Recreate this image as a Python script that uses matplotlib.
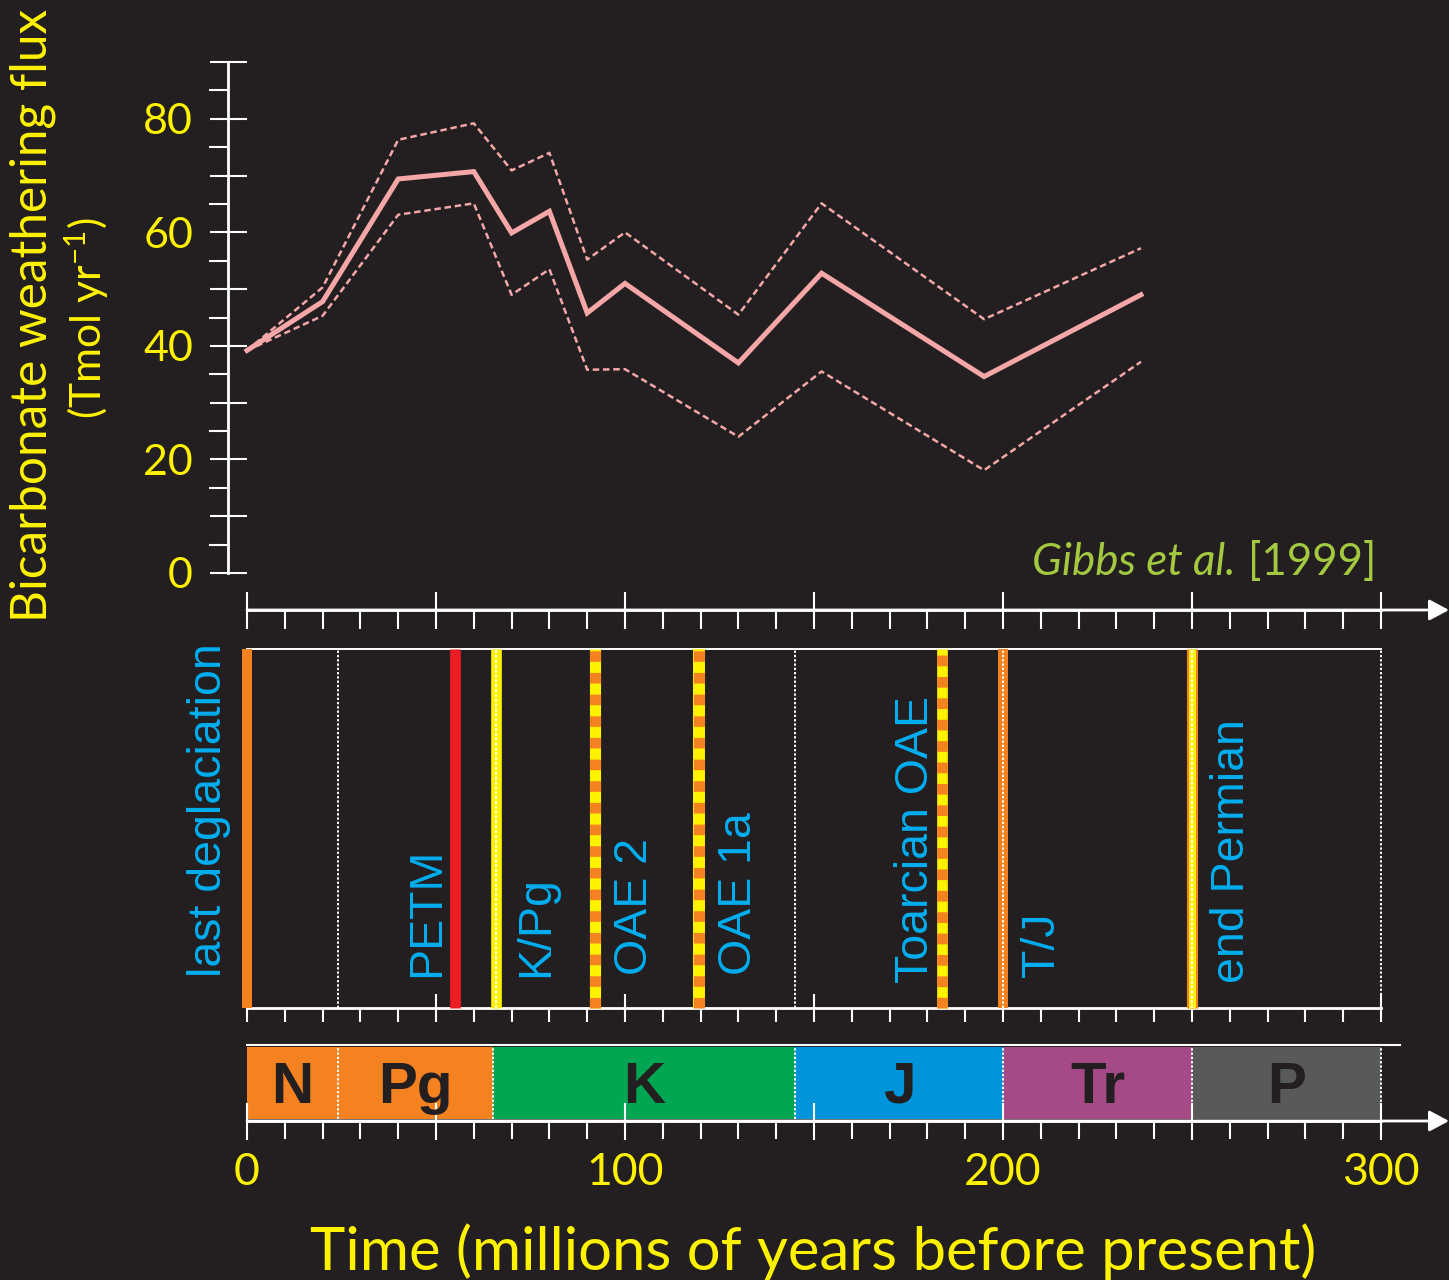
import matplotlib
matplotlib.use("Agg")
import matplotlib.pyplot as plt
from matplotlib.ticker import FixedLocator, FuncFormatter

# ---------------- data ----------------
time_ma = [0, 20, 40, 60, 70, 80, 90, 100, 130, 152, 195, 236.5]
flux_mid = [39.2, 47.8, 69.4, 70.7, 59.9, 63.7, 45.8, 51.0, 37.0, 52.8, 34.6, 49.0]
flux_upper = [39.2, 50.3, 76.3, 79.2, 70.9, 74.0, 55.2, 60.0, 45.5, 65.1, 44.7, 57.2]
flux_lower = [39.2, 45.3, 63.1, 65.1, 49.0, 53.5, 35.8, 35.9, 24.0, 35.5, 18.1, 37.2]

event_names = ["last deglaciation", "PETM", "K/Pg", "OAE 2", "OAE 1a",
               "Toarcian OAE", "T/J", "end Permian"]
event_ages = [0, 55, 66, 92, 119.5, 183.8, 200, 250]

period_names = ["N", "Pg", "K", "J", "Tr", "P"]
period_bounds = [0, 24, 65, 145, 200, 250, 300]

y_tick_labels = [0, 20, 40, 60, 80]
x_tick_labels = [0, 100, 200, 300]

# ---------------- styles ----------------
BG = "#231f20"
YELLOW = "#fff200"
CYAN = "#00aeef"
PINK = "#f5a7a7"
ORANGE = "#f58220"
RED = "#ed1c24"
GREEN_TXT = "#a3c940"
period_colors = {"N": ORANGE, "Pg": ORANGE, "K": "#00a651", "J": "#0095da",
                 "Tr": "#a54a87", "P": "#58595b"}

plt.rcParams["mathtext.fontset"] = "custom"
plt.rcParams["mathtext.rm"] = "Lato"
plt.rcParams["mathtext.it"] = "Lato:italic"
plt.rcParams["mathtext.default"] = "regular"

GEO = ["Lato", "DejaVu Sans"]
ARIAL = ["Liberation Sans", "DejaVu Sans"]

W, H = 1449, 1280
PX = 0.72  # points per pixel at dpi 100

fig = plt.figure(figsize=(W / 100, H / 100), dpi=100, facecolor=BG)


def rect(x0, y0, x1, y1):
    return [x0 / W, 1 - y1 / H, (x1 - x0) / W, (y1 - y0) / H]


X0PX, PPM = 247.0, 3.78
XMIN = (228 - X0PX) / PPM
XMAX = (1449 - X0PX) / PPM

Y0PX, PPU = 573.0, 511.0 / 90.0

X_MAJOR = list(range(0, 301, 50))
X_MINOR = list(range(0, 301, 10))
Y_MAJOR = list(range(0, 91, 10))
Y_MINOR = list(range(5, 90, 10))


def style_axis_ticks(ax, major_len_px, minor_len_px):
    ax.xaxis.set_major_locator(FixedLocator(X_MAJOR))
    ax.xaxis.set_minor_locator(FixedLocator(X_MINOR))
    ax.tick_params(axis="x", which="major", direction="inout",
                   length=major_len_px * PX, width=1.5, color="white")
    ax.tick_params(axis="x", which="minor", direction="out",
                   length=minor_len_px * PX, width=1.5, color="white")


def arrow(ax, y):
    ax.annotate("", xy=(XMAX, y), xytext=(0, y), xycoords="data",
                arrowprops=dict(arrowstyle="-|>,head_length=0.6,head_width=0.32",
                                color="white", lw=2.0, mutation_scale=20,
                                shrinkA=0, shrinkB=0),
                annotation_clip=False)


# ---------------- top panel ----------------
ax = fig.add_axes(rect(228, 40, 1449, 640))
ax.set_facecolor("none")
ax.set_xlim(XMIN, XMAX)
ax.set_ylim((Y0PX - 640) / PPU, (Y0PX - 40) / PPU)
for s in ["top", "right"]:
    ax.spines[s].set_visible(False)
ax.spines["left"].set_bounds(0, 90)
ax.spines["left"].set_color("white")
ax.spines["left"].set_linewidth(2.0)
ybase = (Y0PX - 610) / PPU
ax.spines["bottom"].set_position(("data", ybase))
ax.spines["bottom"].set_bounds(0, 300)
ax.spines["bottom"].set_color("white")
ax.spines["bottom"].set_linewidth(2.0)
style_axis_ticks(ax, 37, 19)
ax.tick_params(axis="x", labelbottom=False)
ax.yaxis.set_major_locator(FixedLocator(Y_MAJOR))
ax.yaxis.set_minor_locator(FixedLocator(Y_MINOR))
ax.tick_params(axis="y", which="major", direction="inout", length=37 * PX,
               width=1.5, color="white", pad=16.5 * PX, labelsize=31,
               labelcolor=YELLOW)
ax.tick_params(axis="y", which="minor", direction="out", length=19 * PX,
               width=1.5, color="white")
ax.yaxis.set_major_formatter(FuncFormatter(
    lambda v, p: f"{v:.0f}" if round(v) in y_tick_labels else ""))
for lab in ax.get_yticklabels():
    lab.set_family(GEO)
arrow(ax, ybase)

ax.plot(time_ma, flux_upper, color=PINK, lw=1.8, dashes=(2.6, 1.5),
        dash_capstyle="butt", clip_on=False)
ax.plot(time_ma, flux_lower, color=PINK, lw=1.8, dashes=(2.6, 1.5),
        dash_capstyle="butt", clip_on=False)
ax.plot(time_ma, flux_mid, color=PINK, lw=3.6, solid_joinstyle="miter",
        clip_on=False)

t_year = ax.text((1376 - X0PX) / PPM, (Y0PX - 575) / PPU, "[1999]",
                 ha="right", va="baseline", color=GREEN_TXT, family=GEO,
                 fontsize=29)
t_gibbs = ax.annotate("Gibbs et al.", xy=(0, 0), xycoords=t_year,
                      xytext=(-12 * PX, 0), textcoords="offset points",
                      ha="right", va="bottom", color=GREEN_TXT, family=GEO,
                      style="italic", fontsize=29)

# ---------------- events panel ----------------
ev = fig.add_axes(rect(228, 649, 1449, 1008))
ev.set_facecolor("none")
ev.set_xlim(XMIN, XMAX)
ev.set_ylim(0, 1)
ev.spines["left"].set_visible(False)
ev.spines["right"].set_visible(False)
ev.spines["top"].set_bounds(0, 300)
ev.spines["top"].set_color("white")
ev.spines["top"].set_linewidth(1.4)
ev.spines["bottom"].set_bounds(0, 300)
ev.spines["bottom"].set_color("white")
ev.spines["bottom"].set_linewidth(2.0)
ev.set_yticks([])
style_axis_ticks(ev, 28, 14)
ev.tick_params(axis="x", labelbottom=False)

for b in period_bounds[1:]:
    ev.axvline(b, color="white", lw=1.4, ls=(0, (1.2, 1.0)), zorder=1)

event_styles = {
    "last deglaciation": [dict(color=ORANGE, lw=7.2)],
    "PETM": [dict(color=RED, lw=7.7)],
    "K/Pg": [dict(color=YELLOW, lw=7.7), dict(color="white", lw=1.4, ls=(0, (1.5, 1.0)))],
    "OAE 2": [dict(color=YELLOW, lw=8.0), dict(color=ORANGE, lw=8.0, ls=(0, (0.95, 1.0)))],
    "OAE 1a": [dict(color=YELLOW, lw=8.6), dict(color=ORANGE, lw=8.0, ls=(0, (0.95, 1.0)))],
    "Toarcian OAE": [dict(color=YELLOW, lw=7.7), dict(color=ORANGE, lw=7.7, ls=(0, (1.0, 1.0)))],
    "T/J": [dict(color=ORANGE, lw=7.2), dict(color="white", lw=1.4, ls=(0, (1.2, 1.0)))],
    "end Permian": [dict(color=ORANGE, lw=8.0), dict(color=YELLOW, lw=5.0),
                    dict(color="white", lw=1.4, ls=(0, (1.5, 1.0)))],
}
label_offsets_px = {
    "last deglaciation": (-26, 31), "PETM": (-16, 31), "K/Pg": (52, 31),
    "OAE 2": (52, 33), "OAE 1a": (52, 33), "Toarcian OAE": (-14, 25),
    "T/J": (51, 31), "end Permian": (52, 25),
}
for name, age in zip(event_names, event_ages):
    for st in event_styles[name]:
        ev.axvline(age, ymin=0, ymax=1, solid_capstyle="butt",
                   dash_capstyle="butt", clip_on=False, zorder=3, **st)
    dx, dy = label_offsets_px[name]
    ev.annotate(name, xy=(age, 0), xycoords="data",
                xytext=(dx * PX, dy * PX), textcoords="offset points",
                rotation=90, rotation_mode="anchor", ha="left", va="baseline",
                color=CYAN, family=ARIAL, fontsize=33.5, zorder=4)

# ---------------- period bar ----------------
pb = fig.add_axes(rect(228, 1045, 1449, 1121))
pb.set_facecolor("none")
pb.set_xlim(XMIN, XMAX)
pb.set_ylim(0, 1)
pb.spines["left"].set_visible(False)
pb.spines["right"].set_visible(False)
pb.spines["top"].set_bounds(0, 305)
pb.spines["top"].set_color("white")
pb.spines["top"].set_linewidth(1.5)
pb.spines["bottom"].set_bounds(0, 300)
pb.spines["bottom"].set_color("white")
pb.spines["bottom"].set_linewidth(2.0)
pb.set_yticks([])
style_axis_ticks(pb, 37, 18)
pb.xaxis.set_major_formatter(FuncFormatter(
    lambda v, p: f"{v:.0f}" if round(v) in x_tick_labels else ""))
pb.tick_params(axis="x", which="major", pad=12.5 * PX, labelsize=32,
               labelcolor=YELLOW)
for lab in pb.get_xticklabels():
    lab.set_family(GEO)

lefts = period_bounds[:-1]
widths = [b - a for a, b in zip(period_bounds[:-1], period_bounds[1:])]
pb.bar(lefts, [0.95] * len(lefts), width=widths, bottom=0.02, align="edge",
       color=[period_colors[n] for n in period_names], linewidth=0, zorder=1)
for b in period_bounds[1:]:
    pb.axvline(b, ymin=0.02, ymax=0.97, color="white", lw=1.4,
               ls=(0, (1.2, 1.0)), zorder=2)
for name, a, b in zip(period_names, period_bounds[:-1], period_bounds[1:]):
    pb.text((a + b) / 2, 0.237, name, ha="center", va="baseline",
            fontsize=42, weight="bold", family=ARIAL, color=BG, zorder=3)
arrow(pb, 0)

# ---------------- axis titles ----------------
xl = fig.text(813 / W, 1 - 1270 / H, "Time (millions of years before present)",
              ha="center", va="baseline", color=YELLOW, family=GEO, fontsize=38)
yl1 = fig.text(33 / W, 1 - 315 / H, "Bicarbonate weathering flux", rotation=90,
               ha="center", va="center", color=YELLOW, family=GEO, fontsize=32)
yl2 = fig.text(87 / W, 1 - 318 / H, "(Tmol yr$^{-1}$)", rotation=90,
               ha="center", va="center", color=YELLOW, family=GEO, fontsize=32)

# fit a few text lengths to the reference
renderer = fig.canvas.get_renderer()


def fit(t, target, vertical=False):
    bb = t.get_window_extent(renderer)
    cur = bb.height if vertical else bb.width
    t.set_fontsize(t.get_fontsize() * target / cur)


fit(xl, 1007)
fit(yl1, 614, vertical=True)
yl2.set_fontsize(yl1.get_fontsize() * 0.86)
w_total = (t_year.get_window_extent(renderer).width
           + t_gibbs.get_window_extent(renderer).width)
scale = (344 - 12) / w_total
t_year.set_fontsize(t_year.get_fontsize() * scale)
t_gibbs.set_fontsize(t_gibbs.get_fontsize() * scale)

fig.savefig("out.png", dpi=100, facecolor=BG)
